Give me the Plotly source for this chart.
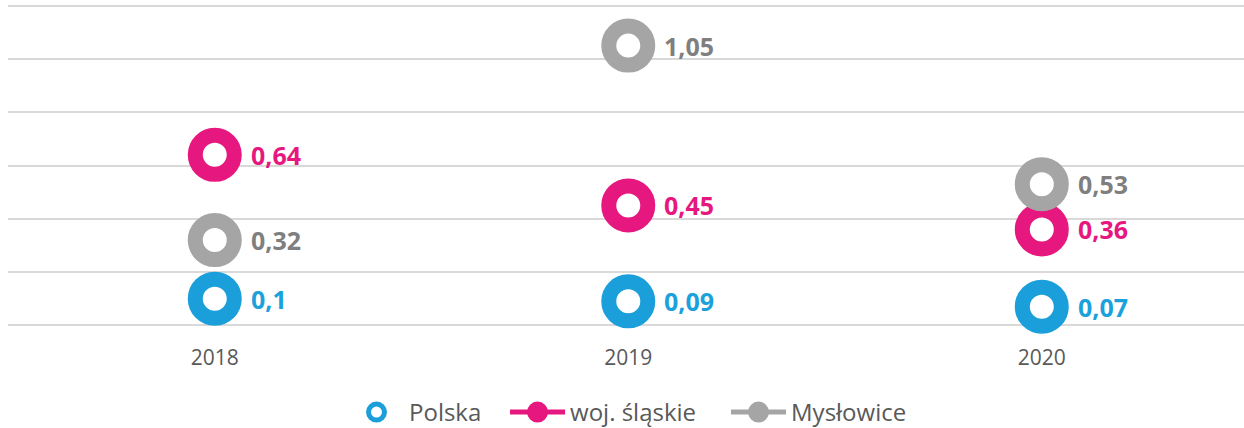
import plotly.graph_objects as go

years = ["2018", "2019", "2020"]
polska = [0.1, 0.09, 0.07]
slaskie = [0.64, 0.45, 0.36]
myslowice = [0.32, 1.05, 0.53]

series_names = ["Polska", "woj. śląskie", "Mysłowice"]
marker_colors = ["#1B9FDA", "#E6177E", "#A5A5A5"]
label_colors = ["#1BA1DB", "#E6177E", "#7F7F7F"]
series_values = [polska, slaskie, myslowice]

xpos = list(range(len(years)))

fig = go.Figure()

# data markers (donuts)
for name, vals, col in zip(series_names, series_values, marker_colors):
    fig.add_trace(go.Scatter(
        x=xpos, y=vals, mode="markers", showlegend=False, name=name,
        marker=dict(size=39, color="white", line=dict(color=col, width=15)),
        hoverinfo="skip", cliponaxis=False,
    ))

# legend-only entries
fig.add_trace(go.Scatter(
    x=[None], y=[None], mode="markers", name="Polska\u00a0\u00a0\u00a0",
    marker=dict(size=16, color="white", line=dict(color=marker_colors[0], width=5)),
))
fig.add_trace(go.Scatter(
    x=[None], y=[None], mode="lines+markers", name="woj. śląskie\u00a0\u00a0\u00a0\u00a0",
    line=dict(color=marker_colors[1], width=5),
    marker=dict(size=16, color=marker_colors[1], line=dict(color=marker_colors[1], width=5)),
))
fig.add_trace(go.Scatter(
    x=[None], y=[None], mode="lines+markers", name="Mysłowice",
    line=dict(color=marker_colors[2], width=5),
    marker=dict(size=16, color=marker_colors[2], line=dict(color=marker_colors[2], width=5)),
))

annotations = []
for vals, col in zip(series_values, label_colors):
    for xi, v in zip(xpos, vals):
        annotations.append(dict(
            x=xi, y=v, xref="x", yref="y",
            text="<b>" + str(v).replace(".", ",") + "</b>",
            showarrow=False, xanchor="left", yanchor="middle", xshift=34,
            font=dict(family="Open Sans", size=25, color=col),
        ))

fig.update_layout(
    width=1244, height=428,
    margin=dict(l=8, r=0, t=3, b=100, autoexpand=False),
    paper_bgcolor="white", plot_bgcolor="white",
    font=dict(family="Open Sans", color="#595959"),
    annotations=annotations,
    hovermode=False,
    legend=dict(
        orientation="h", x=(344 - 8) / 1236, xanchor="left",
        y=-0.26, yanchor="middle",
        font=dict(family="Open Sans", size=24, color="#595959"),
        itemwidth=55, bgcolor="rgba(0,0,0,0)",
    ),
    xaxis=dict(
        range=[-0.5, 2.489], tickvals=xpos, ticktext=years,
        showgrid=False, zeroline=False, showline=False,
        ticks="outside", ticklen=11, tickcolor="rgba(0,0,0,0)",
        tickfont=dict(family="Open Sans", size=21, color="#595959"),
        fixedrange=True, automargin=False,
    ),
    yaxis=dict(
        range=[-0.01, 1.21], dtick=0.2, tick0=0,
        showgrid=True, gridcolor="#D9D9D9", gridwidth=2,
        zeroline=False, showline=False, showticklabels=False,
        fixedrange=True, automargin=False,
    ),
)

fig.write_html(
    "out.html",
    config={"displayModeBar": False},
    post_script="document.body.style.margin='0px';document.body.style.overflow='hidden';",
)
